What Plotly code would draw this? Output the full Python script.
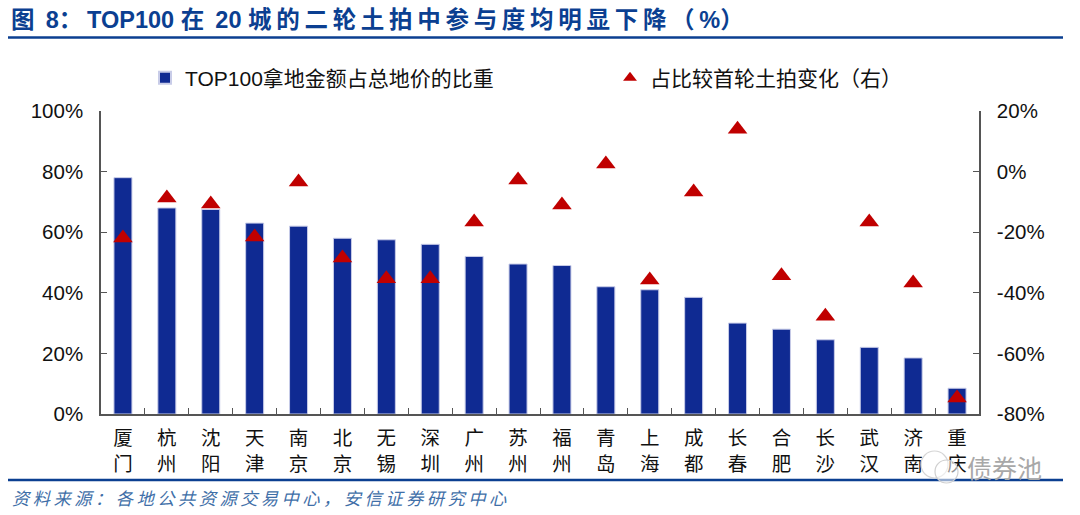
import plotly.graph_objects as go

cities = ["厦门","杭州","沈阳","天津","南京","北京","无锡","深圳","广州","苏州",
          "福州","青岛","上海","成都","长春","合肥","长沙","武汉","济南","重庆"]
share = [78, 68, 67.5, 63, 62, 58, 57.5, 56, 52, 49.5, 49, 42, 41, 38.5, 30, 28, 24.5, 22, 18.5, 8.5]
change = [-21.9, -8.7, -10.7, -21.6, -3.4, -28.5, -35.4, -35.4, -16.6, -2.8, -11, 2.5, -35.8, -6.7, 14, -34.4, -47.7, -16.6, -36.8, -74.7]
left_ticks = [0, 20, 40, 60, 80, 100]
right_ticks = [-80, -60, -40, -20, 0, 20]
title = "图 8\uff1aTOP100 在 20 城的二轮土拍中参与度均明显下降\uff08%\uff09"
source = "资料来源\uff1a各地公共资源交易中心\uff0c安信证券研究中心"
bar_name = "TOP100拿地金额占总地价的比重"
marker_name = "占比较首轮土拍变化\uff08右\uff09"

FONT = "Liberation Sans, Noto Sans CJK SC, sans-serif"
BLUE = "#0B3F91"
W, H = 1080, 515

def px(x): return x / W
def py(y): return 1 - y / H
def spaced(s, gap):
    out = ""
    for c in s:
        out += c
        if ord(c) > 0x2E80:
            out += gap
    return out

labels = [f"{c[0]}<br>{c[1]}" for c in cities]

fig = go.Figure()
fig.add_trace(go.Bar(x=labels, y=share, name=bar_name, legend="legend",
                     marker=dict(color="#0F2A92", line=dict(color="#C8CCE8", width=1)), width=0.41, yaxis="y"))
fig.add_trace(go.Scatter(x=labels, y=change, name=marker_name, mode="markers", legend="legend2",
                         marker=dict(symbol="triangle-up", color="#C00000", size=17), yaxis="y2"))

annotations = [
    dict(text=f"<b>{spaced(title, chr(0x2009))}</b>", x=px(9), y=py(20), xref="paper", yref="paper", xanchor="left", yanchor="middle",
         showarrow=False, font=dict(size=23.5, color=BLUE, family=FONT)),
    dict(text=f"<i>{spaced(source, chr(0x2009))}</i>", x=px(10), y=py(497), xref="paper", yref="paper", xanchor="left", yanchor="middle",
         showarrow=False, font=dict(size=17.3, color="#3F6FA8", family="Noto Sans CJK SC")),
    dict(text="债券池", x=px(1044), y=py(467), xref="paper", yref="paper", xanchor="right", yanchor="middle",
         showarrow=False, font=dict(size=25, color="#A8A8A8", family="Noto Sans CJK SC")),
]

legend_common = dict(orientation="h", yanchor="middle", xanchor="left", font=dict(size=21),
                     itemsizing="constant", bgcolor="rgba(0,0,0,0)")

fig.update_layout(
    width=W, height=H, margin=dict(l=0, r=0, t=0, b=0, pad=0),
    autosize=False,
    paper_bgcolor="white", plot_bgcolor="white",
    font=dict(family=FONT, size=20.5, color="#111111"),
    showlegend=True,
    legend=dict(x=px(145), y=py(78), **legend_common),
    legend2=dict(x=px(610), y=py(78), **legend_common),
    xaxis=dict(domain=[px(101), px(979)], type="category", range=[-0.5, 19.5],
               tickson="boundaries", ticks="inside", ticklen=6, ticklabelstandoff=6,
               tickcolor="#555555", linecolor="#555555", linewidth=1.5, showline=True, mirror=False,
               tickfont=dict(size=19.5, family=FONT), showgrid=False, tickangle=0, automargin=False),
    yaxis=dict(range=[0, 100], tickvals=left_ticks, ticktext=[f"{v}%" for v in left_ticks], ticks="inside", ticklen=6,
               ticklabelstandoff=12, tickcolor="#555555", linecolor="#555555", linewidth=1.5, showline=True, showgrid=False, zeroline=False,
               domain=[1 - 414 / H, 1 - 111 / H], automargin=False),
    yaxis2=dict(range=[-80, 20], overlaying="y", side="right", tickvals=right_ticks, anchor="x",
                ticktext=[f"{v}%" for v in right_ticks], ticks="inside", ticklen=6, ticklabelstandoff=12,
                tickcolor="#555555", linecolor="#555555", linewidth=1.5, showline=True, showgrid=False, zeroline=False,
                automargin=False),
    annotations=annotations,
    shapes=[
        dict(type="line", xref="paper", yref="paper", x0=px(8), x1=px(1063), y0=py(37.5), y1=py(37.5),
             line=dict(color=BLUE, width=2.5)),
        dict(type="line", xref="paper", yref="paper", x0=px(8), x1=px(1063), y0=py(480), y1=py(480),
             line=dict(color=BLUE, width=2.5)),
        dict(type="circle", xref="paper", yref="paper", x0=px(921), x1=px(948), y0=py(478), y1=py(451),
             line=dict(color="#D5D5D5", width=1.2), fillcolor="rgba(255,255,255,0.55)"),
        dict(type="circle", xref="paper", yref="paper", x0=px(935), x1=px(958), y0=py(483), y1=py(460),
             line=dict(color="#CFCFCF", width=1.2), fillcolor="rgba(255,255,255,0.55)"),
    ],
)
fig.write_html("out.html", config={"displayModeBar": False},
               post_script="document.body.style.margin='0';document.body.style.overflow='hidden';")
